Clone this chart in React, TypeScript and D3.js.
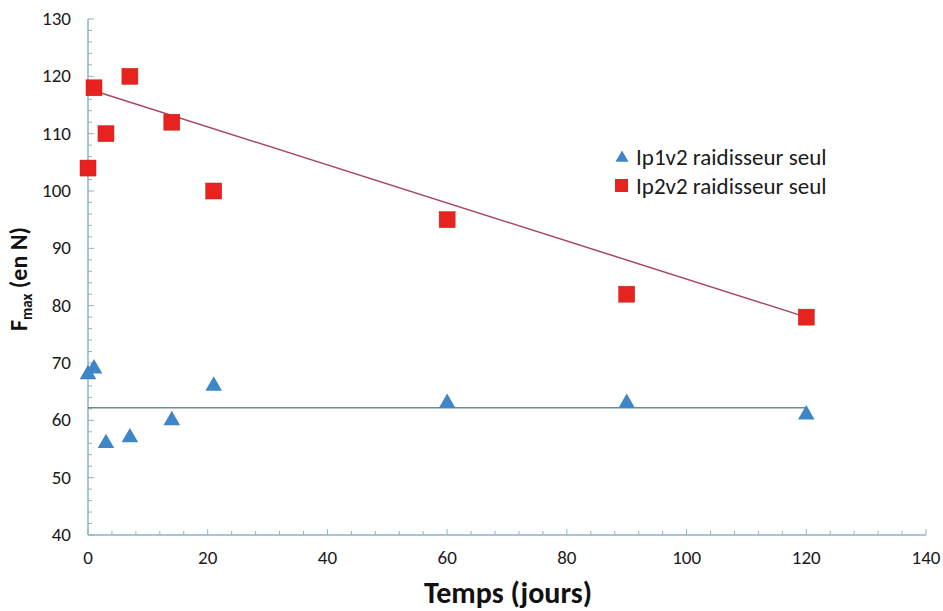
import React from "react";
import * as d3 from "d3";

const days = [0, 1, 3, 7, 14, 21, 60, 90, 120];
const seriesIp1 = [68, 69, 56, 57, 60, 66, 63, 63, 61];
const seriesIp2 = [104, 118, 110, 120, 112, 100, 95, 82, 78];
const trendIp1X = [0, 120];
const trendIp1Y = [62.2, 62.2];
const trendIp2X = [1, 120];
const trendIp2Y = [117.5, 78];
const xTicks = [0, 20, 40, 60, 80, 100, 120, 140];
const yTicks = [40, 50, 60, 70, 80, 90, 100, 110, 120, 130];
const legendLabels = ["Ip1v2 raidisseur seul", "Ip2v2 raidisseur seul"];

const W = 943;
const H = 611;
const FONT = "Carlito, Lato, 'Open Sans', sans-serif";

export default function App() {
  const x = d3.scaleLinear().domain([0, 140]).range([88, 926]);
  const y = d3.scaleLinear().domain([40, 130]).range([535, 19]);
  const axisColor = "#8db3c7";
  const minorX = d3.range(0, 141, 4).filter((v) => v % 20 !== 0);
  const minorY = d3.range(40, 131, 2).filter((v) => v % 10 !== 0);
  const line = d3
    .line<[number, number]>()
    .x((d) => x(d[0]))
    .y((d) => y(d[1]));
  const tri = d3.symbol().type(d3.symbolTriangle).size(120)();
  const sq = 16;
  return (
    <svg width={W} height={H} style={{ position: "absolute", left: 0, top: 0, background: "#fff" }}>
      {/* axes */}
      <line x1={x(0)} x2={x(0)} y1={y(40)} y2={y(130)} stroke={axisColor} strokeWidth={1.5} />
      <line x1={x(0)} x2={x(140)} y1={y(40)} y2={y(40)} stroke={axisColor} strokeWidth={1.5} />
      {xTicks.map((t) => (
        <g key={"xt" + t}>
          <line x1={x(t)} x2={x(t)} y1={y(40)} y2={y(40) - 6} stroke={axisColor} strokeWidth={1} />
          <text x={x(t)} y={564} textAnchor="middle" fontFamily={FONT} fontSize={19} fill="#1a1a1a">
            {t}
          </text>
        </g>
      ))}
      {minorX.map((t) => (
        <line key={"mx" + t} x1={x(t)} x2={x(t)} y1={y(40)} y2={y(40) - 4} stroke={axisColor} strokeWidth={1} />
      ))}
      {yTicks.map((t) => (
        <g key={"yt" + t}>
          <line x1={x(0)} x2={x(0) + 6} y1={y(t)} y2={y(t)} stroke={axisColor} strokeWidth={1} />
          <text x={71} y={y(t) + 6} textAnchor="end" fontFamily={FONT} fontSize={19} fill="#1a1a1a">
            {t}
          </text>
        </g>
      ))}
      {minorY.map((t) => (
        <line key={"my" + t} x1={x(0)} x2={x(0) + 4} y1={y(t)} y2={y(t)} stroke={axisColor} strokeWidth={1} />
      ))}
      {/* trend lines */}
      <path
        d={line(trendIp1X.map((v, i) => [v, trendIp1Y[i]] as [number, number])) || ""}
        stroke="#6f8c96"
        strokeWidth={1.5}
        fill="none"
      />
      <path
        d={line(trendIp2X.map((v, i) => [v, trendIp2Y[i]] as [number, number])) || ""}
        stroke="#a8475e"
        strokeWidth={1.5}
        fill="none"
      />
      {/* points */}
      {days.map((d, i) => (
        <path key={"a" + i} d={tri || ""} transform={`translate(${x(d)},${y(seriesIp1[i])})`} fill="#3f86c8" />
      ))}
      {days.map((d, i) => (
        <rect
          key={"b" + i}
          x={x(d) - sq / 2}
          y={y(seriesIp2[i]) - sq / 2}
          width={sq}
          height={sq}
          fill="#e8231f"
          stroke="#c0201c"
          strokeWidth={0.5}
        />
      ))}
      {/* legend */}
      <path d={d3.symbol().type(d3.symbolTriangle).size(75)() || ""} transform="translate(622,158)" fill="#3f86c8" />
      <text x={636} y={165} fontFamily={FONT} fontSize={23} fill="#1a1a1a">
        {legendLabels[0]}
      </text>
      <rect x={615} y={179} width={13} height={13} fill="#e8231f" />
      <text x={636} y={194} fontFamily={FONT} fontSize={23} fill="#1a1a1a">
        {legendLabels[1]}
      </text>
      {/* titles */}
      <text x={508} y={603} textAnchor="middle" fontFamily={FONT} fontSize={30} fontWeight="bold" fill="#111">
        Temps (jours)
      </text>
      <text
        transform="translate(27,279) rotate(-90)"
        textAnchor="middle"
        fontFamily={FONT}
        fontSize={24}
        fontWeight="bold"
        fill="#111"
      >
        F<tspan fontSize={15} dy={5}>max</tspan>
        <tspan dy={-5}> (en N)</tspan>
      </text>
    </svg>
  );
}
